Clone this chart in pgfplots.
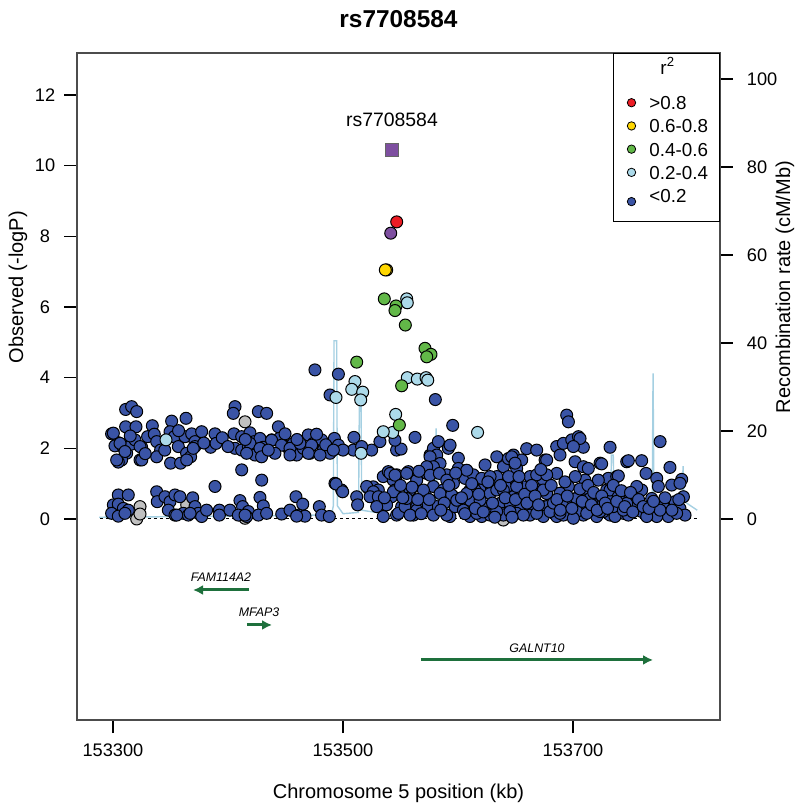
\documentclass[border=0pt]{standalone}
\usepackage{pgfplots}
\pgfplotsset{compat=1.18}
\usetikzlibrary{arrows.meta,calc}
\usepackage{fontspec}
\setmainfont{Liberation Sans}
\definecolor{ptblue}{RGB}{58,84,166}
\definecolor{ptlblue}{RGB}{172,218,234}
\definecolor{ptgreen}{RGB}{98,184,72}
\definecolor{ptyellow}{RGB}{255,215,0}
\definecolor{ptred}{RGB}{236,28,36}
\definecolor{ptpurple}{RGB}{126,79,160}
\definecolor{ptgray}{RGB}{192,192,192}
\definecolor{recblue}{RGB}{165,208,226}
\definecolor{genegreen}{RGB}{30,112,60}
\begin{document}
\begin{tikzpicture}
\pgfplotsset{
  common/.style={
    scale only axis, width=321.5pt, height=333.5pt,
    xmin=153268.7, xmax=153827.8,
    tick align=outside, major tick length=6.5pt,
    tick style={black, line width=0.6pt},
    tick label style={font=\fontsize{9.1}{11}\selectfont},
    /pgf/number format/assume math mode=true,
    label style={font=\fontsize{10}{12}\selectfont},
    scaled x ticks=false, scaled y ticks=false,
  },
  pts/.style={only marks, mark=*, mark size=3.0pt, mark options={fill=#1, draw=black, line width=0.5pt}, forget plot},
  lgd/.style={legend image code/.code={\path[draw=none, fill=none] (0pt,-1.1pt) rectangle (15pt,2.9pt); \draw[black, line width=0.4pt, fill=#1] plot[mark=*, mark size=2.1pt] coordinates {(6pt,0.9pt)};}},
}
\begin{axis}[common, name=rec,
  ymin=-45.68, ymax=105.9,
  axis x line=none, axis y line*=right,
  axis line style={draw=black!70, line width=0.6pt},
  ytick={0,20,40,60,80,100},
  yticklabel style={anchor=west, xshift=3.5pt},
  ylabel={Recombination rate (cM/Mb)},
  ylabel style={at={(rel axis cs:1.1011,0.649)}, anchor=center},
]
\addplot[recblue, line width=0.7pt] coordinates {
(153288,0.4) (153340,0.5) (153420,0.7) (153480,0.9) (153490,1.0) (153491.6,3) (153492.2,40.5) (153494.5,40.5) (153495.1,3) (153500,1.2) (153513.5,1.5) (153514.3,29) (153515.6,29) (153516.3,2) (153540,1.0) (153575,1.5) (153580.2,3) (153580.9,20.6) (153581.6,3) (153600,1.5) (153650,1.8) (153700,1.5) (153730,2.5) (153732.8,5) (153733.4,14.5) (153735,14.5) (153735.6,5) (153760,3) (153768.9,5) (153769.6,33.1) (153770.3,5) (153785,3) (153794.8,4) (153795.7,12) (153796.6,4) (153808,2)
};
\end{axis}
\begin{axis}[common, name=main,
  ymin=-5.69, ymax=13.19,
  axis line style={draw=black!70, line width=0.6pt},
  xtick={153300,153500,153700}, xticklabels={153300,153500,153700},
  xticklabel style={yshift=-2pt},
  xtick pos=lower, ytick pos=left,
  ytick={0,2,4,6,8,10,12},
  yticklabel style={text width=12pt, align=center},
  ylabel={Observed (-logP)},
  ylabel style={at={(rel axis cs:-0.0918,0.649)}, anchor=center},
  xlabel={Chromosome 5 position (kb)},
  xlabel style={at={(rel axis cs:0.5,-0.1094)}, anchor=center},
  title={rs7708584},
  title style={at={(rel axis cs:0.5,1.0525)}, anchor=center, yshift=-6.5pt, font=\fontsize{12.2}{14}\selectfont\bfseries},
  clip=false,
  legend style={at={(rel axis cs:1,1)}, anchor=north east, draw=black, line width=0.5pt, fill=white,
    font=\fontsize{9.4}{11}\selectfont, inner xsep=3pt, inner ysep=1.5pt, row sep=2.55pt, column sep=0pt,
    nodes={inner xsep=0pt, inner ysep=0.5pt}},
  legend cell align=left,
]
% dashed baseline
\addplot[black, line width=0.5pt, dash pattern=on 1.5pt off 1.5pt, forget plot] coordinates {(153288.7,0) (153807.8,0)};
% gray (no LD info)
\addplot[pts=ptgray] table {
x y
153414.8 2.75
153323.5 0.35
153320.6 0.00
153323.5 0.14
153364.1 0.40
153414.8 0.02
153639.4 -0.03
};
% blue r2<0.2
\addplot[pts=ptblue] table {
x y
153311.0 3.10
153316.2 3.18
153320.6 3.04
153311.0 2.61
153320.0 2.61
153334.2 2.64
153351.0 2.77
153363.5 2.85
153298.8 2.41
153304.6 2.16
153301.7 2.07
153309.0 2.03
153311.9 1.86
153316.2 2.12
153319.1 2.24
153324.9 2.03
153323.5 1.67
153307.5 1.67
153304.6 1.61
153330.1 2.33
153335.9 2.40
153338.0 2.19
153341.4 1.95
153338.0 1.76
153349.6 2.47
153353.3 2.33
153356.8 2.05
153350.1 1.58
153358.8 1.58
153364.0 1.86
153367.5 1.76
153362.6 2.33
153368.4 2.41
153371.3 2.19
153377.1 2.47
153371.3 2.05
153388.7 2.41
153384.9 2.03
153389.6 2.14
153406.1 3.18
153404.6 2.99
153426.4 3.04
153433.6 2.99
153405.2 2.41
153411.9 2.33
153419.1 2.44
153422.9 2.19
153427.8 2.28
153406.1 2.00
153411.9 1.95
153417.7 2.05
153423.5 1.81
153430.7 2.03
153438.0 2.24
153443.8 2.61
153444.6 2.28
153451.0 2.05
153449.6 2.41
153456.8 2.14
153453.9 1.91
153459.7 1.81
153465.5 2.00
153469.8 2.38
153471.3 1.86
153474.2 2.14
153481.4 2.24
153482.9 1.95
153488.7 1.86
153492.5 2.28
153496.0 2.09
153411.9 1.39
153429.3 1.10
153475.6 4.22
153496.0 4.10
153488.7 3.51
153509.5 2.31
153509.0 1.95
153300.3 2.43
153306.1 2.14
153303.2 1.67
153325.0 1.67
153310.4 1.91
153323.5 2.05
153364.1 1.67
153369.8 2.00
153419.1 2.14
153427.8 2.00
153437.9 2.23
153446.6 2.09
153453.9 2.00
153462.6 2.14
153472.7 2.09
153416.2 1.86
153429.2 1.76
153440.8 1.86
153453.9 1.81
153469.8 1.86
153480.0 1.81
153315.0 2.35
153328.0 1.85
153345.0 1.95
153357.0 2.50
153379.0 2.15
153395.0 2.30
153400.0 2.05
153415.0 2.25
153435.0 1.95
153460.0 2.25
153477.0 2.40
153485.0 2.10
153500.0 1.95
153493.0 1.01
153498.8 0.82
153532.1 2.19
153546.6 1.95
153524.9 1.95
153491.6 1.95
153516.2 2.05
153304.6 0.68
153313.3 0.68
153300.3 0.40
153304.6 0.42
153309.0 0.30
153313.3 0.25
153298.8 0.16
153304.6 0.08
153310.4 0.16
153338.0 0.77
153338.5 0.49
153345.2 0.63
153349.6 0.49
153353.9 0.68
153358.2 0.63
153348.1 0.25
153353.9 0.11
153361.1 0.16
153369.3 0.60
153371.3 0.35
153374.2 0.16
153365.5 0.11
153377.1 0.07
153381.4 0.25
153388.7 0.92
153392.5 0.25
153392.5 0.11
153401.7 0.25
153410.4 0.52
153412.7 0.35
153417.7 0.21
153409.0 0.11
153416.2 0.07
153427.8 0.61
153430.7 0.37
153426.4 0.11
153433.6 0.16
153446.7 0.14
153453.9 0.25
153459.1 0.63
153465.0 0.42
153461.2 0.11
153466.9 0.08
153479.4 0.35
153481.4 0.11
153488.1 0.07
153493.9 0.99
153499.7 0.77
153511.9 0.63
153512.7 0.40
153355.4 0.11
153367.0 0.16
153414.8 0.11
153459.7 0.08
153522.0 0.87
153526.3 0.91
153530.7 0.82
153529.2 0.54
153535.0 1.20
153539.4 1.34
153543.7 1.10
153542.3 0.63
153537.9 0.40
153535.0 0.07
153546.6 0.11
153545.2 0.82
153520.6 0.92
153526.4 0.77
153523.5 0.63
153530.7 0.63
153540.9 1.29
153546.7 1.25
153543.8 0.77
153529.3 0.35
153551.0 0.35
153548.1 0.16
153556.8 1.34
153558.3 0.77
153556.8 0.63
153553.9 0.35
153564.1 1.15
153568.4 1.34
153572.8 1.29
153575.7 1.81
153578.6 2.00
153582.9 2.19
153591.6 2.00
153571.3 0.73
153578.6 0.92
153581.5 0.35
153572.8 0.35
153578.6 0.11
153564.1 0.35
153561.2 0.11
153590.1 1.25
153600.3 1.72
153601.7 1.39
153606.1 1.15
153613.3 1.25
153623.5 1.53
153596.0 0.63
153604.6 0.35
153616.2 0.44
153624.9 0.35
153610.4 0.07
153593.0 0.07
153620.6 0.07
153627.8 0.92
153633.6 1.15
153619.1 0.82
153610.4 0.82
153587.2 0.82
153562.6 2.31
153595.4 2.65
153580.3 3.38
153550.5 1.98
153545.2 2.23
153581.5 1.81
153575.7 1.76
153593.1 2.09
153584.4 1.57
153578.6 1.48
153572.8 1.48
153575.7 1.24
153583.8 1.29
153600.3 1.43
153545.2 1.24
153555.4 1.29
153564.1 1.10
153558.3 0.82
153584.4 0.72
153596.0 1.01
153594.5 0.68
153555.4 0.58
153590.2 0.11
153597.4 0.35
153604.7 0.25
153564.1 0.25
153558.3 0.11
153610.5 0.53
153614.8 0.82
153620.6 1.15
153616.3 0.16
153627.9 0.72
153633.7 1.76
153639.5 1.48
153633.7 1.20
153643.8 1.71
153648.2 1.81
153655.4 1.67
153659.7 1.99
153668.4 1.95
153675.7 1.67
153674.2 1.10
153662.6 1.20
153651.0 1.43
153656.8 0.91
153642.4 0.91
153648.2 0.63
153636.5 0.44
153639.5 0.16
153627.9 0.11
153645.2 0.25
153656.8 0.35
153665.5 0.53
153662.6 0.16
153674.2 0.35
153677.1 0.72
153669.9 0.82
153607.6 0.72
153627.9 1.20
153590.2 1.10
153598.9 0.53
153569.9 0.82
153619.2 0.53
153633.7 0.82
153651.0 1.01
153607.6 1.38
153646.7 1.76
153649.6 1.58
153668.4 1.25
153677.1 1.67
153685.8 2.05
153688.7 1.81
153691.6 2.14
153694.5 2.94
153696.0 2.75
153698.9 2.24
153704.7 2.33
153709.0 2.03
153701.8 1.62
153709.0 1.48
153713.3 1.43
153723.5 1.58
153732.2 2.03
153746.7 1.62
153730.7 1.15
153738.0 1.20
153722.0 1.10
153710.4 1.10
153696.0 0.92
153685.8 1.29
153677.1 1.25
153674.2 0.82
153651.0 0.92
153639.4 0.82
153688.7 0.73
153697.4 0.54
153704.7 0.63
153711.9 0.73
153729.3 0.82
153732.2 0.63
153740.9 0.54
153746.7 0.63
153720.6 0.44
153709.0 0.35
153691.6 0.35
153677.1 0.35
153665.5 0.40
153653.9 0.35
153645.2 0.44
153639.4 0.11
153651.0 0.16
153662.6 0.11
153674.2 0.07
153685.8 0.07
153697.4 0.16
153709.0 0.11
153720.6 0.07
153732.2 0.11
153743.8 0.16
153736.5 0.07
153726.4 0.21
153714.8 0.25
153703.2 0.21
153691.6 0.11
153680.0 0.21
153668.4 0.16
153656.8 0.11
153645.2 0.21
153633.6 0.21
153706.1 2.28
153700.3 2.05
153724.9 1.56
153748.1 1.65
153759.7 1.65
153763.5 1.29
153775.7 2.19
153784.3 1.46
153772.8 1.15
153774.2 0.92
153785.8 0.96
153794.5 1.12
153793.0 1.01
153739.4 1.22
153759.7 0.82
153732.2 0.82
153710.4 0.87
153703.2 0.58
153714.8 0.58
153726.4 0.44
153739.4 0.63
153753.9 0.44
153768.4 0.58
153778.6 0.35
153788.7 0.49
153793.0 0.30
153796.0 0.63
153797.4 0.11
153782.9 0.07
153772.8 0.07
153759.7 0.21
153748.1 0.11
153735.1 0.35
153723.5 0.21
153711.9 0.16
153700.3 0.02
153688.7 0.16
153743.8 0.25
153764.1 0.07
153775.7 0.25
153790.1 0.16
153755.4 0.92
153746.7 0.44
153588.0 0.45
153592.0 0.95
153598.0 1.30
153603.0 0.60
153606.0 0.15
153612.0 1.00
153615.0 0.30
153618.0 0.70
153622.0 0.20
153626.0 1.05
153630.0 0.45
153632.0 0.05
153637.0 0.95
153641.0 0.60
153644.0 1.20
153647.0 0.05
153650.0 0.55
153653.0 1.20
153658.0 0.70
153660.0 0.45
153664.0 0.95
153667.0 0.65
153670.0 0.40
153672.0 1.40
153681.0 0.95
153683.0 0.45
153686.0 0.55
153689.0 0.25
153693.0 1.05
153695.0 0.65
153699.0 0.30
153702.0 1.20
153706.0 0.85
153708.0 0.50
153713.0 0.95
153716.0 0.40
153718.0 0.75
153721.0 0.25
153725.0 0.65
153728.0 0.45
153730.0 0.30
153735.0 0.95
153738.0 0.50
153742.0 0.80
153745.0 0.35
153750.0 0.75
153752.0 0.20
153757.0 0.55
153761.0 0.35
153766.0 0.30
153770.0 0.50
153780.0 0.60
153786.0 0.25
153792.0 0.55
153565.0 0.55
153568.0 0.15
153575.0 0.55
153585.0 0.25
153552.0 0.60
153560.0 0.90
153566.0 1.35
153536.0 0.60
153550.0 0.95
};
% light blue 0.2-0.4
\addplot[pts=ptlblue] table {
x y
153346.1 2.24
153493.9 3.44
153510.4 3.89
153507.6 3.67
153517.1 3.59
153515.4 3.37
153555.4 6.23
153555.9 6.12
153555.9 4.00
153564.6 3.96
153572.2 4.00
153573.7 3.93
153545.8 2.96
153543.2 2.45
153535.0 2.47
153515.7 1.86
153617.0 2.45
};
% green 0.4-0.6
\addplot[pts=ptgreen] table {
x y
153535.9 6.23
153546.1 6.03
153545.2 5.90
153554.2 5.49
153571.3 4.83
153576.5 4.66
153572.8 4.59
153551.0 3.77
153511.9 4.44
153549.0 2.66
};
% yellow 0.6-0.8
\addplot[pts=ptyellow] table {
x y
153538.0 7.05
153536.8 7.05
};
% red >0.8
\addplot[pts=ptred] table {
x y
153546.7 8.41
};
% purple
\addplot[pts=ptpurple] table {
x y
153541.5 8.09
};
\addplot[only marks, mark=square*, mark size=3.2pt, mark options={fill=ptpurple, draw=black!60, line width=0.5pt}, forget plot] table {
x y
153542.6 10.44
};
\node[font=\fontsize{9.7}{11}\selectfont] at (axis cs:153542.6,11.29) {rs7708584};
% genes
\addplot[genegreen, line width=1.5pt, -{Latex[length=5pt,width=5pt]}, forget plot] coordinates {(153418.3,-2.01) (153369.6,-2.01)};
\addplot[genegreen, line width=1.5pt, -{Latex[length=5pt,width=5pt]}, forget plot] coordinates {(153416.5,-3.0) (153438.3,-3.0)};
\addplot[genegreen, line width=1.5pt, -{Latex[length=5pt,width=5pt]}, forget plot] coordinates {(153567.8,-3.99) (153769.6,-3.99)};
\node[font=\fontsize{6.2}{7}\selectfont\itshape] at (axis cs:153393.9,-1.64) {FAM114A2};
\node[font=\fontsize{6.2}{7}\selectfont\itshape] at (axis cs:153427.0,-2.63) {MFAP3};
\node[font=\fontsize{6.2}{7}\selectfont\itshape] at (axis cs:153668.7,-3.65) {GALNT10};
% legend
\addlegendimage{empty legend}
\addlegendentry[text depth=7.5pt]{\makebox[32pt][l]{\hspace*{5.5pt}r\textsuperscript{2}}}
\addlegendimage{lgd=ptred}
\addlegendentry{\makebox[32pt][l]{>0.8}}
\addlegendimage{lgd=ptyellow}
\addlegendentry{\makebox[32pt][l]{0.6-0.8}}
\addlegendimage{lgd=ptgreen}
\addlegendentry{\makebox[32pt][l]{0.4-0.6}}
\addlegendimage{lgd=ptlblue}
\addlegendentry{\makebox[32pt][l]{0.2-0.4}}
\addlegendimage{lgd=ptblue}
\addlegendentry[text depth=7.5pt]{\makebox[32pt][l]{<0.2}}
\end{axis}
\pgfresetboundingbox
\useasboundingbox ($(main.south west)+(-38.5pt,-45.5pt)$) rectangle ++(400pt,405.5pt);
\end{tikzpicture}
\end{document}
